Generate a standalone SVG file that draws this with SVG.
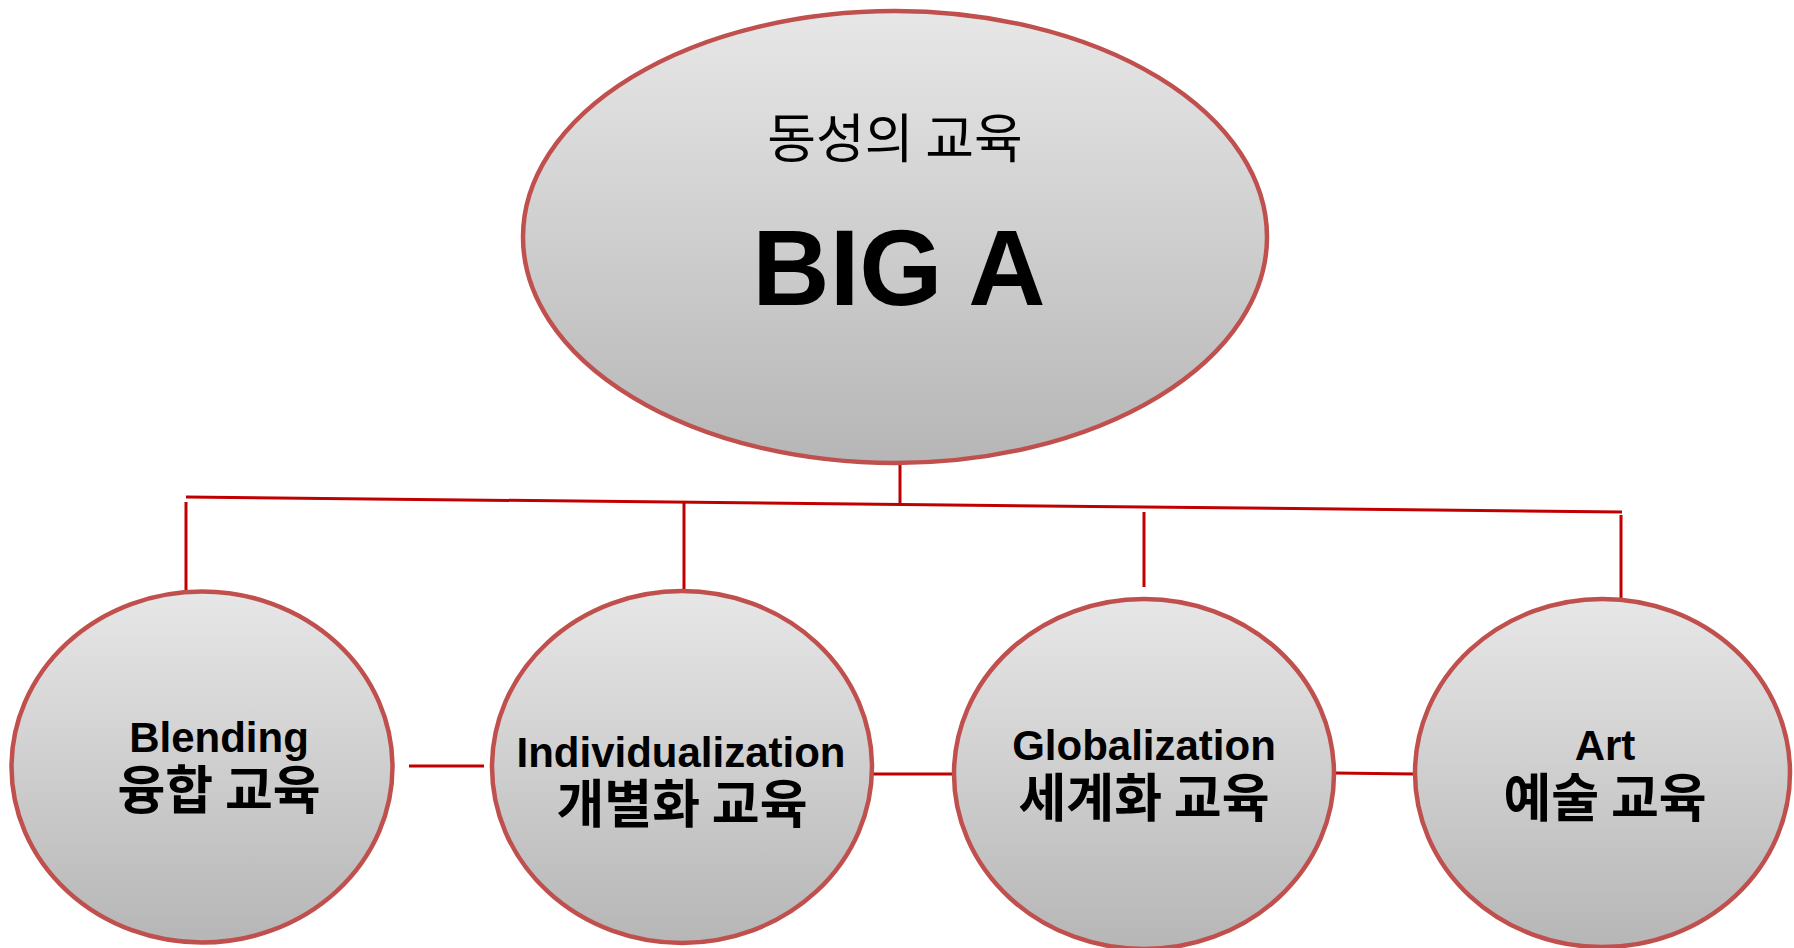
<svg xmlns="http://www.w3.org/2000/svg" width="1794" height="948" viewBox="0 0 1794 948">
<defs>
<linearGradient id="g" x1="0" y1="0" x2="0" y2="1">
<stop offset="0" stop-color="#E7E7E7"/>
<stop offset="1" stop-color="#B6B6B6"/>
</linearGradient>
<style>
.node{fill:url(#g);stroke:#C0504D;stroke-width:4.5}
.conn line{stroke:#C00000;stroke-width:3;fill:none}
.en{font-family:"Liberation Sans",Arial,sans-serif;font-weight:bold;fill:#000;text-anchor:middle}
.ko{font-family:"Noto Sans CJK KR","Liberation Sans",sans-serif;fill:#000;text-anchor:middle}
.kb{font-size:52px;font-weight:bold}
</style>
</defs>
<rect width="1794" height="948" fill="#FFFFFF"/>
<g id="connectors" class="conn">
<line x1="900" y1="464" x2="900" y2="504"/>
<line x1="186" y1="497" x2="1622" y2="512"/>
<line x1="186" y1="502" x2="186" y2="590"/>
<line x1="684" y1="503" x2="684" y2="590"/>
<line x1="1144" y1="512" x2="1144" y2="587"/>
<line x1="1621" y1="515" x2="1621" y2="601"/>
<line x1="409" y1="766" x2="484" y2="766"/>
<line x1="872" y1="774" x2="954" y2="774"/>
<line x1="1334" y1="773" x2="1415" y2="774"/>
</g>
<g id="big-a">
<ellipse class="node" cx="895" cy="237" rx="372" ry="226"/>
<text class="ko" x="895" y="158" font-size="53">동성의 교육</text>
<text class="en" x="899" y="305" font-size="107">BIG A</text>
</g>
<g id="blending">
<ellipse class="node" cx="202" cy="767" rx="190.5" ry="175.5"/>
<text class="en" x="219" y="752" font-size="42">Blending</text>
<text class="ko kb" x="219" y="809">융합 교육</text>
</g>
<g id="individualization">
<ellipse class="node" cx="682" cy="767" rx="190" ry="176"/>
<text class="en" x="681" y="767" font-size="42">Individualization</text>
<text class="ko kb" x="682" y="823">개별화 교육</text>
</g>
<g id="globalization">
<ellipse class="node" cx="1144" cy="774" rx="190" ry="175"/>
<text class="en" x="1144" y="760" font-size="42">Globalization</text>
<text class="ko kb" x="1144" y="817">세계화 교육</text>
</g>
<g id="art">
<ellipse class="node" cx="1602.5" cy="773" rx="187.5" ry="174"/>
<text class="en" x="1605" y="760" font-size="42">Art</text>
<text class="ko kb" x="1605" y="817">예술 교육</text>
</g>
</svg>
